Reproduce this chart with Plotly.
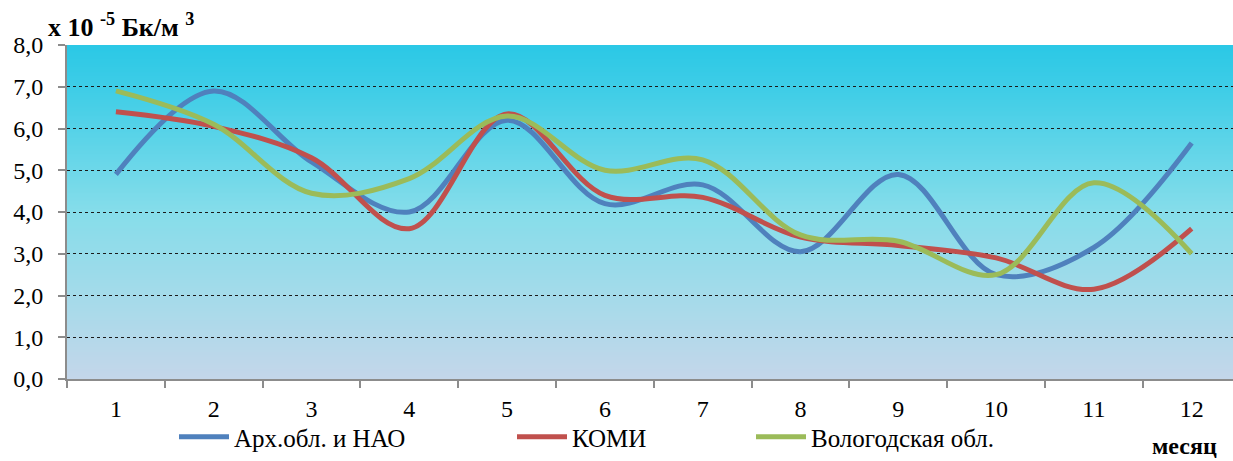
import base64, struct, zlib
import plotly.graph_objects as go

# ---------------- data ----------------
months = [1, 2, 3, 4, 5, 6, 7, 8, 9, 10, 11, 12]
month_labels = ["1", "2", "3", "4", "5", "6", "7", "8", "9", "10", "11", "12"]
arh_nao = [4.9, 6.9, 5.2, 4.0, 6.2, 4.2, 4.65, 3.05, 4.9, 2.5, 3.15, 5.65]
komi = [6.4, 6.05, 5.3, 3.6, 6.35, 4.4, 4.35, 3.4, 3.2, 2.9, 2.15, 3.6]
vologda = [6.9, 6.1, 4.45, 4.8, 6.3, 5.0, 5.25, 3.45, 3.3, 2.5, 4.7, 3.0]
y_ticks = [0, 1, 2, 3, 4, 5, 6, 7, 8]

series_names = ["Арх.обл. и НАО", "КОМИ", "Вологодская обл."]
series_colors = ["#4F81BD", "#C0504D", "#9BBB59"]

FONT = "'Liberation Serif', 'Times New Roman', serif"


# ---------------- gradient background image ----------------
def gradient_png(stops, n=256):
    rows = []
    for i in range(n):
        t = i / (n - 1)
        for k in range(len(stops) - 1):
            t0, c0 = stops[k]
            t1, c1 = stops[k + 1]
            if t0 <= t <= t1:
                f = (t - t0) / (t1 - t0) if t1 > t0 else 0
                rows.append(tuple(int(round(c0[j] + (c1[j] - c0[j]) * f)) for j in range(3)))
                break
    raw = b"".join(b"\x00" + bytes(r) for r in rows)

    def chunk(tag, data):
        c = struct.pack(">I", len(data)) + tag + data
        return c + struct.pack(">I", zlib.crc32(tag + data) & 0xFFFFFFFF)

    png = b"\x89PNG\r\n\x1a\n"
    png += chunk(b"IHDR", struct.pack(">IIBBBBB", 1, n, 8, 2, 0, 0, 0))
    png += chunk(b"IDAT", zlib.compress(raw, 9))
    png += chunk(b"IEND", b"")
    return "data:image/png;base64," + base64.b64encode(png).decode()


bg = gradient_png([
    (0.0, (43, 200, 230)),
    (0.15, (66, 206, 231)),
    (0.5, (134, 221, 234)),
    (0.8, (170, 218, 234)),
    (1.0, (196, 214, 234)),
])

# ---------------- figure ----------------
fig = go.Figure()
legend_ids = ["legend", "legend2", "legend3"]
for name, vals, col, lg in zip(series_names, [arh_nao, komi, vologda], series_colors, legend_ids):
    fig.add_trace(go.Scatter(
        x=months, y=vals, name=name, mode="lines",
        line=dict(color=col, width=5, shape="spline", smoothing=1.0),
        legend=lg, showlegend=True,
    ))

W, H = 1233, 461
L, R, T, B = 67, 0, 45, 82
pw = W - L - R
ph = H - T - B

leg_common = dict(
    orientation="h", yanchor="middle", y=(379 - 437) / ph, xanchor="left",
    font=dict(family=FONT, size=25, color="#000"), bgcolor="rgba(0,0,0,0)",
    itemwidth=50,
)

fig.update_layout(
    width=W, height=H,
    margin=dict(l=L, r=R, t=T, b=B, pad=0, autoexpand=False),
    paper_bgcolor="white", plot_bgcolor="rgba(0,0,0,0)",
    separators=", ",
    font=dict(family=FONT, color="#000"),
    legend=dict(leg_common, x=(174 - L) / pw),
    legend2=dict(leg_common, x=(512 - L) / pw),
    legend3=dict(leg_common, x=(751 - L) / pw),
    images=[dict(
        source=bg, xref="paper", yref="paper", x=0, y=1, sizex=1, sizey=1,
        xanchor="left", yanchor="top", sizing="stretch", layer="below",
    )],
    xaxis=dict(
        range=[0.5, 0.5 + pw / 97.8],
        tickvals=months, ticktext=month_labels,
        ticks="", ticklen=0,
        tickfont=dict(family=FONT, size=24, color="#000"),
        ticklabelstandoff=7,
        showgrid=False, zeroline=False, automargin=False,
        showline=True, linecolor="#8C8C8C", linewidth=2,
        minor=dict(tick0=0.5, dtick=1, ticks="outside", ticklen=7, tickcolor="#8C8C8C", tickwidth=2, showgrid=False),
        fixedrange=True,
    ),
    yaxis=dict(
        range=[0, 8],
        tickvals=y_ticks, tickformat=".1f",
        ticks="outside", ticklen=7, tickcolor="#8C8C8C", tickwidth=2,
        tickfont=dict(family=FONT, size=24, color="#000"),
        ticklabelstandoff=10, automargin=False,
        showgrid=True, gridcolor="#1a1a1a", gridwidth=1, griddash="dot",
        zeroline=False,
        showline=True, linecolor="#8C8C8C", linewidth=2,
        fixedrange=True,
    ),
    annotations=[
        dict(text="<b>x 10 <sup>-5</sup> Бк/м <sup>3</sup></b>", xref="paper", yref="paper",
             x=(46 - L) / pw, y=1 + (45 - 26) / ph, xanchor="left", yanchor="middle",
             showarrow=False, font=dict(family=FONT, size=26, color="#000")),
        dict(text="<b>месяц</b>", xref="paper", yref="paper",
             x=(1219 - L) / pw, y=(379 - 446) / ph, xanchor="right", yanchor="middle",
             showarrow=False, font=dict(family=FONT, size=24, color="#000")),
    ],
)

fig.write_html(
    "out.html",
    config={"displayModeBar": False},
    post_script="document.body.style.margin='0';document.body.style.padding='0';",
)
